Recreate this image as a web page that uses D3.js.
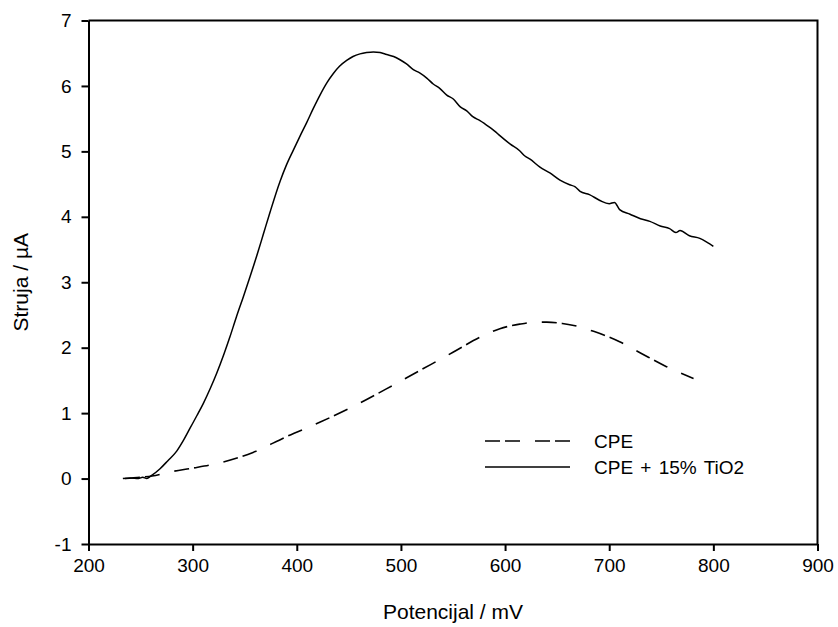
<!DOCTYPE html>
<html>
<head>
<meta charset="utf-8">
<script src="https://cdn.jsdelivr.net/npm/d3@7"></script>
<style>
body { margin: 0; background: #fff; }
svg { display: block; font-family: Arial, "Liberation Sans", sans-serif; }
.axis path, .axis line { stroke: #000; stroke-width: 2; }
.axis text { font-size: 19px; fill: #000; }
</style>
</head>
<body>
<script>
//----------------
//Data
//----------------
var tioV = [233, 240, 248, 252, 256, 260, 268.7, 276, 284.7, 291, 297.5, 304, 310.3, 317, 323.1, 330, 335.9, 342, 348.7, 355, 361.5, 368, 374.3, 383.9, 390, 396.7, 403, 409.5, 416, 422.3, 429, 435.1, 441, 447.9, 454, 460.7, 467, 473.5, 480, 486.3, 493, 499.1, 505, 511.9, 518, 524.8, 531, 537.5, 544, 550.3, 557, 563.2, 569, 575.9, 585, 590, 595, 605, 614, 619, 624, 633.5, 643, 652.7, 662, 667, 672, 681, 691, 700, 705, 710, 720, 730, 739, 749, 758, 764, 768, 777, 787, 794, 800]
var tioI = [0.00, 0.01, 0.00, 0.02, 0.00, 0.04, 0.15, 0.27, 0.42, 0.58, 0.77, 0.96, 1.15, 1.38, 1.61, 1.90, 2.17, 2.47, 2.78, 3.08, 3.40, 3.74, 4.07, 4.54, 4.79, 5.02, 5.23, 5.44, 5.66, 5.86, 6.05, 6.19, 6.30, 6.39, 6.45, 6.49, 6.51, 6.52, 6.51, 6.48, 6.45, 6.40, 6.34, 6.25, 6.20, 6.12, 6.03, 5.96, 5.86, 5.80, 5.68, 5.62, 5.53, 5.47, 5.37, 5.31, 5.24, 5.11, 5.01, 4.93, 4.88, 4.76, 4.67, 4.56, 4.49, 4.46, 4.39, 4.34, 4.25, 4.20, 4.22, 4.11, 4.04, 3.97, 3.93, 3.86, 3.82, 3.76, 3.79, 3.71, 3.67, 3.61, 3.55]

var cpeV = [235, 250, 261, 281, 300, 326, 358, 390, 422, 454, 486, 518, 550, 576, 595, 614, 630, 640, 655, 666, 685, 710, 730, 755, 781]
var cpeI = [0.00, 0.02, 0.04, 0.11, 0.16, 0.24, 0.40, 0.64, 0.86, 1.10, 1.37, 1.65, 1.93, 2.16, 2.29, 2.36, 2.39, 2.39, 2.37, 2.34, 2.25, 2.09, 1.92, 1.71, 1.53]

var xTicks = [200, 300, 400, 500, 600, 700, 800, 900]
var yTicks = [-1, 0, 1, 2, 3, 4, 5, 6, 7]

var seriesNames = ['CPE', 'CPE + 15% TiO2']
var seriesDash = ['15,5,15,15', null]

//----------------
//Layout
//----------------
var _width = 838,
	_height = 627
var _left = 88.5,
	_right = 817.5,
	_top = 20.5,
	_bottom = 544

var svg = d3.select('body').append('svg')
	.attr('width', _width)
	.attr('height', _height)

var x = d3.scaleLinear().domain([200, 900]).range([_left, _right])
var y = d3.scaleLinear().domain([-1, 7]).range([_bottom, _top])

//plain hyphen for negatives, like the original
var fmt = function(d){ return String(d) }

//Frame (top and right sides)
svg.append('path')
	.attr('d', 'M' + _left + ',' + _top + 'H' + _right + 'V' + _bottom)
	.attr('fill', 'none')
	.attr('stroke', '#000')
	.attr('stroke-width', 2)

//Axes
svg.append('g').attr('class', 'axis')
	.attr('transform', 'translate(0,' + _bottom + ')')
	.call(d3.axisBottom(x).tickValues(xTicks).tickFormat(fmt).tickSize(7).tickSizeOuter(0).tickPadding(8))

svg.append('g').attr('class', 'axis')
	.attr('transform', 'translate(' + _left + ',0)')
	.call(d3.axisLeft(y).tickValues(yTicks).tickFormat(fmt).tickSize(7).tickSizeOuter(0).tickPadding(10))

//Axis titles
svg.append('text')
	.attr('x', (_left + _right) / 2)
	.attr('y', 619)
	.attr('text-anchor', 'middle')
	.style('font-size', '21px')
	.text('Potencijal / mV')

svg.append('text')
	.attr('transform', 'translate(28,' + ((_top + _bottom) / 2) + ') rotate(-90)')
	.attr('text-anchor', 'middle')
	.style('font-size', '21px')
	.text('Struja / \u00b5A')

//Curves
var line = d3.line()
	.curve(d3.curveMonotoneX)
	.x(function(d){ return x(d[0]) })
	.y(function(d){ return y(d[1]) })

var cpe = cpeV.map(function(v, i){ return [v, cpeI[i]] })
var tio = tioV.map(function(v, i){ return [v, tioI[i]] })

svg.append('path')
	.datum(cpe)
	.attr('d', line)
	.attr('fill', 'none')
	.attr('stroke', '#000')
	.attr('stroke-width', 1.6)
	.attr('stroke-dasharray', seriesDash[0])

svg.append('path')
	.datum(tio)
	.attr('d', line)
	.attr('fill', 'none')
	.attr('stroke', '#000')
	.attr('stroke-width', 1.5)

//Legend
var legend = svg.append('g').attr('transform', 'translate(485,441)')
seriesNames.forEach(function(name, i){
	var row = legend.append('g').attr('transform', 'translate(0,' + (i * 26) + ')')
	row.append('line')
		.attr('x1', 0).attr('x2', 85)
		.attr('y1', 0).attr('y2', 0)
		.attr('stroke', '#000')
		.attr('stroke-width', 1.5)
		.attr('stroke-dasharray', seriesDash[i])
	row.append('text')
		.attr('x', 109)
		.attr('y', 6.5)
		.style('font-size', '19px')
		.style('word-spacing', '2px')
		.text(name)
})
</script>
</body>
</html>
